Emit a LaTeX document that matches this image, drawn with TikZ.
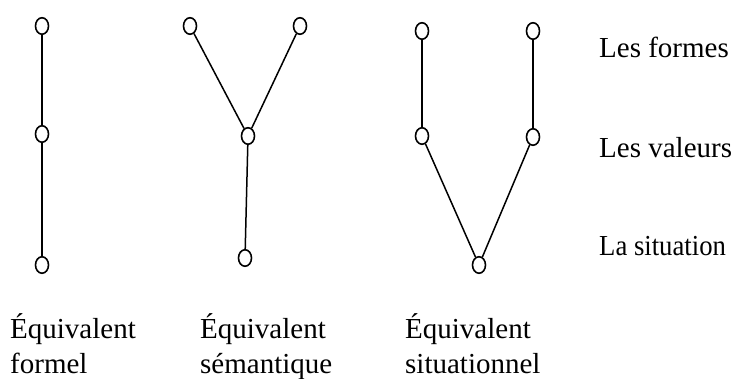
\documentclass[tikz,border=0pt]{standalone}
\usepackage{fontspec}
\setmainfont{Liberation Serif}
\usetikzlibrary{shapes.geometric}
\begin{document}
\begin{tikzpicture}[x=1pt,y=-1pt,
  pt/.style={draw,ellipse,minimum width=13pt,minimum height=16.5pt,inner sep=0pt,line width=1.6pt},
  conn/.style={line width=1.5pt},
  lbl/.style={anchor=base west,inner sep=0pt,font=\fontsize{29}{34}\selectfont},
  captxt/.style={anchor=base west,inner sep=0pt,font=\fontsize{29}{34}\selectfont}]
\useasboundingbox (0,0) rectangle (741,379);
% column 1
\node[pt] (a1) at (42,26) {};
\node[pt] (a2) at (42,134) {};
\node[pt] (a3) at (42,265) {};
\draw[conn] (a1) -- (a2);
\draw[conn] (a2) -- (a3);
% column 2
\node[pt] (b1) at (190,26) {};
\node[pt] (b2) at (300,26) {};
\node[pt] (b3) at (248,136) {};
\node[pt] (b4) at (245,258) {};
\draw[conn] (b1) -- (b3);
\draw[conn] (b2) -- (b3);
\draw[conn] (b3) -- (b4);
% column 3
\node[pt] (c1) at (422,31) {};
\node[pt] (c2) at (533,31) {};
\node[pt] (c3) at (422,136) {};
\node[pt] (c4) at (533,137) {};
\node[pt] (c5) at (479,265) {};
\draw[conn] (c1) -- (c3);
\draw[conn] (c2) -- (c4);
\draw[conn] (c3) -- (c5);
\draw[conn] (c4) -- (c5);
% level labels
\node[lbl] (l1) at (599,58) {Les formes};
\node[lbl] (l2) at (599,158) {Les valeurs};
\node[lbl] (l3) at (599,256) {\scalebox{0.92}[1]{La situation}};
% captions
\node[captxt] (t1a) at (10,338) {Équivalent};
\node[captxt] (t1b) at (10,373) {formel};
\node[captxt] (t2a) at (200,338) {Équivalent};
\node[captxt] (t2b) at (200,373) {sémantique};
\node[captxt] (t3a) at (405,338) {Équivalent};
\node[captxt] (t3b) at (405,373) {situationnel};
\end{tikzpicture}
\end{document}
